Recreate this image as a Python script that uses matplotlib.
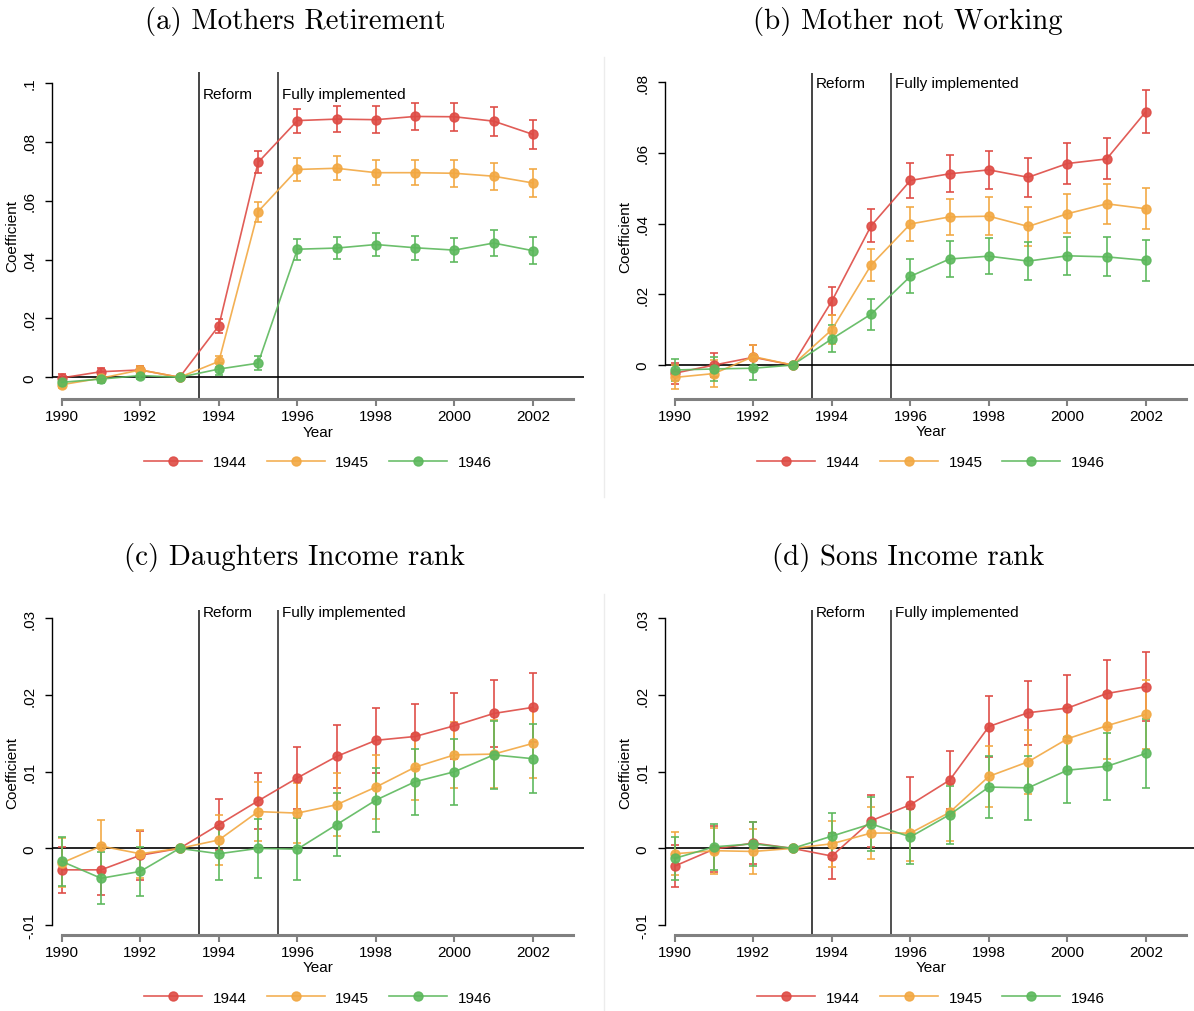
import numpy as np
import matplotlib
matplotlib.use('Agg')
import matplotlib.pyplot as plt
from matplotlib.lines import Line2D

plt.rcParams['font.family'] = ['Liberation Sans', 'DejaVu Sans']

years = np.arange(1990, 2003)
cohorts = ['1944', '1945', '1946']
colors = ['#de4b45', '#f2a842', '#5cb85c']

# (a) Mothers Retirement: coefficients and CI half-widths
ret_1944 = [-0.0002, 0.0019, 0.0025, 0.0, 0.0175, 0.0730, 0.0872, 0.0877, 0.0875, 0.0886, 0.0885, 0.0870, 0.0825]
ret_1944_ci = [0.0012, 0.0012, 0.0012, 0.0, 0.0023, 0.0037, 0.0041, 0.0043, 0.0045, 0.0046, 0.0047, 0.0049, 0.0050]
ret_1945 = [-0.0025, -0.0003, 0.0025, 0.0, 0.0054, 0.0563, 0.0706, 0.0710, 0.0695, 0.0695, 0.0693, 0.0683, 0.0660]
ret_1945_ci = [0.0012, 0.0012, 0.0012, 0.0, 0.0020, 0.0034, 0.0040, 0.0041, 0.0043, 0.0043, 0.0046, 0.0046, 0.0048]
ret_1946 = [-0.0017, -0.0006, 0.0006, 0.0, 0.0028, 0.0048, 0.0435, 0.0439, 0.0451, 0.0440, 0.0432, 0.0456, 0.0430]
ret_1946_ci = [0.0012, 0.0012, 0.0012, 0.0, 0.0020, 0.0023, 0.0035, 0.0038, 0.0040, 0.0040, 0.0042, 0.0044, 0.0046]

# (b) Mother not Working
work_1944 = [-0.0023, 0.0000, 0.0022, 0.0, 0.0181, 0.0394, 0.0522, 0.0541, 0.0552, 0.0531, 0.0570, 0.0583, 0.0717]
work_1944_ci = [0.0030, 0.0035, 0.0035, 0.0, 0.0040, 0.0047, 0.0050, 0.0052, 0.0054, 0.0055, 0.0057, 0.0058, 0.0060]
work_1945 = [-0.0035, -0.0024, 0.0024, 0.0, 0.0100, 0.0283, 0.0399, 0.0419, 0.0421, 0.0392, 0.0428, 0.0456, 0.0442]
work_1945_ci = [0.0034, 0.0037, 0.0033, 0.0, 0.0041, 0.0046, 0.0049, 0.0051, 0.0053, 0.0054, 0.0055, 0.0056, 0.0058]
work_1946 = [-0.0014, -0.0011, -0.0009, 0.0, 0.0074, 0.0144, 0.0251, 0.0300, 0.0308, 0.0294, 0.0309, 0.0306, 0.0296]
work_1946_ci = [0.0032, 0.0035, 0.0034, 0.0, 0.0038, 0.0044, 0.0048, 0.0050, 0.0051, 0.0053, 0.0054, 0.0055, 0.0057]

# (c) Daughters Income rank
dau_1944 = [-0.0028, -0.0028, -0.0009, 0.0, 0.0031, 0.0062, 0.0092, 0.0120, 0.0141, 0.0146, 0.0160, 0.0176, 0.0184]
dau_1944_ci = [0.0030, 0.0033, 0.0032, 0.0, 0.0033, 0.0037, 0.0040, 0.0041, 0.0042, 0.0043, 0.0043, 0.0044, 0.0045]
dau_1945 = [-0.0019, 0.0003, -0.0007, 0.0, 0.0011, 0.0048, 0.0046, 0.0057, 0.0080, 0.0106, 0.0122, 0.0123, 0.0137]
dau_1945_ci = [0.0032, 0.0034, 0.0031, 0.0, 0.0033, 0.0038, 0.0039, 0.0041, 0.0042, 0.0043, 0.0043, 0.0044, 0.0045]
dau_1946 = [-0.0017, -0.0039, -0.0030, 0.0, -0.0007, 0.0000, -0.0001, 0.0031, 0.0063, 0.0087, 0.0100, 0.0122, 0.0117]
dau_1946_ci = [0.0032, 0.0034, 0.0032, 0.0, 0.0034, 0.0038, 0.0040, 0.0041, 0.0042, 0.0043, 0.0043, 0.0044, 0.0045]

# (d) Sons Income rank
son_1944 = [-0.0023, -0.0001, 0.0007, 0.0, -0.0010, 0.0036, 0.0057, 0.0089, 0.0159, 0.0177, 0.0183, 0.0202, 0.0211]
son_1944_ci = [0.0028, 0.0030, 0.0028, 0.0, 0.0030, 0.0034, 0.0036, 0.0038, 0.0040, 0.0042, 0.0043, 0.0044, 0.0045]
son_1945 = [-0.0007, -0.0003, -0.0004, 0.0, 0.0006, 0.0020, 0.0020, 0.0047, 0.0094, 0.0113, 0.0143, 0.0160, 0.0175]
son_1945_ci = [0.0028, 0.0030, 0.0029, 0.0, 0.0030, 0.0034, 0.0036, 0.0037, 0.0040, 0.0042, 0.0042, 0.0044, 0.0045]
son_1946 = [-0.0013, 0.0002, 0.0006, 0.0, 0.0016, 0.0032, 0.0015, 0.0044, 0.0080, 0.0079, 0.0102, 0.0107, 0.0124]
son_1946_ci = [0.0028, 0.0030, 0.0029, 0.0, 0.0030, 0.0035, 0.0036, 0.0038, 0.0040, 0.0042, 0.0043, 0.0044, 0.0045]

W, H = 1194, 1012
fig = plt.figure(figsize=(W / 100, H / 100), dpi=100)


def px_axes(left, top, width, height):
    return fig.add_axes([left / W, 1 - (top + height) / H, width / W, height / H])


def tick_fmt(v):
    if abs(v) < 1e-12:
        return '0'
    s = ('%.2f' % v).rstrip('0')
    return s.replace('0.', '.')


panels = [
    dict(title='(a) Mothers Retirement', left=52, top=73, h=327,
         ylim=(-0.00737, 0.1037), yticks=[0, .02, .04, .06, .08, .1], text_y=0.0962,
         series=[(ret_1944, ret_1944_ci), (ret_1945, ret_1945_ci), (ret_1946, ret_1946_ci)]),
    dict(title='(b) Mother not Working', left=665, top=74, h=326,
         ylim=(-0.0096, 0.0826), yticks=[0, .02, .04, .06, .08], text_y=0.0797,
         series=[(work_1944, work_1944_ci), (work_1945, work_1945_ci), (work_1946, work_1946_ci)]),
    dict(title='(c) Daughters Income rank', left=52, top=611, h=325,
         ylim=(-0.0113, 0.0311), yticks=[-.01, 0, .01, .02, .03], text_y=0.0308,
         series=[(dau_1944, dau_1944_ci), (dau_1945, dau_1945_ci), (dau_1946, dau_1946_ci)]),
    dict(title='(d) Sons Income rank', left=665, top=611, h=325,
         ylim=(-0.0113, 0.0311), yticks=[-.01, 0, .01, .02, .03], text_y=0.0308,
         series=[(son_1944, son_1944_ci), (son_1945, son_1945_ci), (son_1946, son_1946_ci)]),
]

for p in panels:
    ax = px_axes(p['left'], p['top'], 532, p['h'])
    ax.set_xlim(1989.75, 2003.3)
    ax.set_ylim(*p['ylim'])

    ax.axvline(1993.5, color='#444444', lw=1.4, zorder=1)
    ax.axvline(1995.5, color='#222222', lw=1.1, zorder=1)
    ax.axhline(0, color='black', lw=1.2, zorder=1)

    for (vals, ci), c in zip(p['series'], colors):
        ax.errorbar(years, vals, yerr=ci, fmt='-o', color=c, ms=6.5, lw=1.2,
                    elinewidth=1.3, capsize=3, capthick=1.3, alpha=0.9, zorder=3)

    ax.text(1993.6, p['text_y'], 'Reform', fontsize=11, va='center', ha='left')
    ax.text(1995.6, p['text_y'], 'Fully implemented', fontsize=11, va='center', ha='left')

    for s in ['top', 'right']:
        ax.spines[s].set_visible(False)
    ax.spines['left'].set_bounds(p['yticks'][0], p['yticks'][-1])
    ax.spines['left'].set_linewidth(1.0)
    ax.spines['bottom'].set_bounds(1990, 2003.02)
    ax.spines['bottom'].set_color('#808080')
    ax.spines['bottom'].set_linewidth(2.2)

    ax.set_xticks(range(1990, 2003, 2))
    ax.tick_params(axis='x', colors='#808080', labelcolor='black', length=5,
                   width=1.5, labelsize=11, pad=2)
    ax.set_yticks(p['yticks'])
    ax.set_yticklabels([tick_fmt(v) for v in p['yticks']], rotation=90, va='center')
    ax.tick_params(axis='y', length=5, width=1.0, labelsize=11, pad=6)

    ax.set_ylabel('Coefficient', fontsize=11)
    ax.yaxis.set_label_coords(-0.062, 0.5)
    ax.set_xlabel('Year', fontsize=11)
    ax.xaxis.set_label_coords(0.5, -0.078)

    handles = [Line2D([], [], color=c, marker='o', ms=6.5, lw=1.2, alpha=0.9) for c in colors]
    ax.legend(handles, cohorts, loc='center', bbox_to_anchor=(0.5, -0.193), ncol=3,
              frameon=False, fontsize=11, handlelength=3.8, handletextpad=0.7,
              columnspacing=1.3)

    cx = p['left'] - 52 + 295
    ty = 22 if p['top'] < 300 else 558
    fig.text(cx / W, 1 - ty / H, p['title'], fontsize=20.8, family='cmr10',
             ha='center', va='center')

# faint panel separators
fig.add_artist(Line2D([604 / W, 604 / W], [1 - 58 / H, 1 - 498 / H], color='#ececec', lw=1))
fig.add_artist(Line2D([604 / W, 604 / W], [1 - 595 / H, 0], color='#ececec', lw=1))

fig.savefig('out.png', dpi=100)
